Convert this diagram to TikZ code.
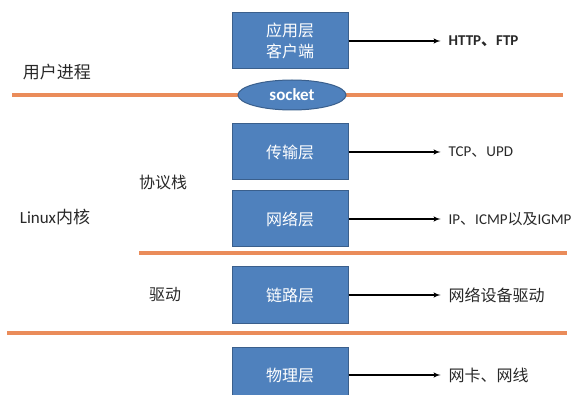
\documentclass[tikz,border=0pt]{standalone}
\usepackage{fontspec}
\setmainfont{Carlito}
\newfontfamily\cjk{Noto Sans CJK SC}
\usepackage{tikz}
\usetikzlibrary{arrows}
\usetikzlibrary{positioning}
\usetikzlibrary{shapes.geometric}

\definecolor{layerblue}{RGB}{79,129,189}
\definecolor{layeredge}{RGB}{58,95,140}
\definecolor{splitorange}{RGB}{234,140,90}
\definecolor{labelgray}{RGB}{40,40,40}
\newcommand{\zh}[1]{{\cjk #1}}

\begin{document}
\begin{tikzpicture}[x=1pt,y=1pt]

\tikzstyle{layer}=[draw=layeredge, fill=layerblue, line width=1pt, minimum width=116pt, minimum height=56pt, text=white, align=center, font=\cjk\fontsize{16}{21}\selectfont]
\tikzstyle{line}=[draw, line width=1.4pt, -latex']
\tikzstyle{proto}=[inner xsep=8pt, text=labelgray, font=\fontsize{15}{18}\selectfont]
\tikzstyle{side}=[text=labelgray, font=\fontsize{16}{19}\selectfont]
\tikzstyle{split}=[draw=splitorange, line width=3.5pt]

\useasboundingbox (0,0) rectangle (584,394);

% separators between user space, kernel and hardware
\draw[split] (12,299) -- (563,299);
\draw[split] (139,141) -- (567,141);
\draw[split] (7,61) -- (567,61);

\node[layer] (application) at (290,353) {应用层\\客户端};
\node[ellipse, draw=layeredge, fill=layerblue, line width=1pt, minimum width=108pt, minimum height=30pt, text=white, font=\bfseries\fontsize{17}{20}\selectfont] (socket) at (292,299) {socket};
\node[layer, below=54pt of application] (transport) {传输层};
\node[layer, below=10pt of transport] (network) {网络层};
\node[layer, below=19pt of network] (link) {链路层};
\node[layer, below=23pt of link] (physical) {物理层};

\node[proto, right=92pt of application] (http) {\textbf{HTTP\zh{、}FTP}};
\node[proto, right=92pt of transport] (tcp) {TCP\zh{、}UPD};
\node[proto, right=92pt of network] (ip) {IP\zh{、}ICMP\zh{以及}IGMP};
\node[proto, right=92pt of link, font=\cjk\fontsize{16}{19}\selectfont] (netdriver) {网络设备驱动};
\node[proto, right=92pt of physical, font=\cjk\fontsize{16}{19}\selectfont] (nic) {网卡、网线};

\node[side, font=\cjk\fontsize{17}{20}\selectfont] (userspace) at (57,322) {用户进程};
\node[side, font=\fontsize{17}{20}\selectfont] (kernel) at (55,177) {Linux\zh{内核}};
\node[side, font=\cjk\fontsize{16}{19}\selectfont] (stack) at (163,212) {协议栈};
\node[side, font=\cjk\fontsize{16}{19}\selectfont] (driver) at (165,99) {驱动};

\path[line] (application) -- (http);
\path[line] (transport) -- (tcp);
\path[line] (network) -- (ip);
\path[line] (link) -- (netdriver);
\path[line] (physical) -- (nic);

\end{tikzpicture}
\end{document}
